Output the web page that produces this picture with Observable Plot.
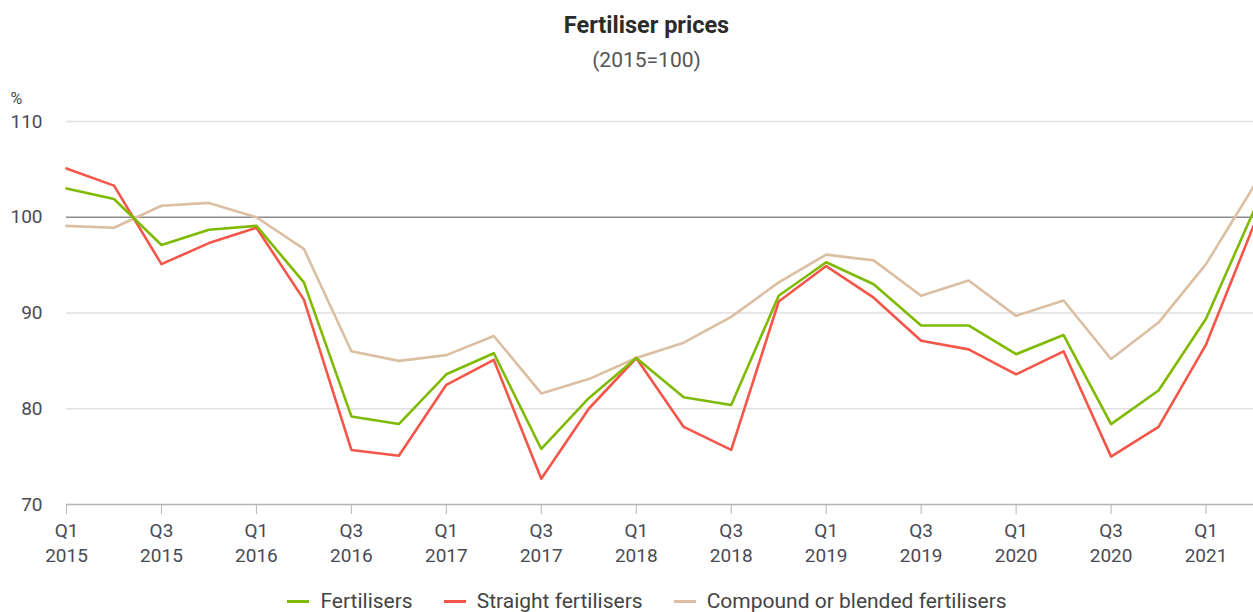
<!DOCTYPE html>
<html>
<head>
<meta charset="utf-8">
<script src="https://cdn.jsdelivr.net/npm/d3@7"></script>
<script src="https://cdn.jsdelivr.net/npm/@observablehq/plot@0.6"></script>
<style>
  body { margin: 0; background: #fff; font-family: Roboto, "Noto Sans", sans-serif; overflow: hidden; }
  #wrap { width: 1253px; height: 612px; position: relative; overflow: hidden; }
  #title { position: absolute; left: 0; width: 1293px; top: 14px; line-height: 1; text-align: center; font-size: 23.5px; font-weight: 700; color: #2b2b2b; }
  #subtitle { position: absolute; left: 0; width: 1293px; top: 50px; line-height: 1; text-align: center; font-size: 21px; color: #555; }
  #chart { position: absolute; left: 0; top: 78px; }
  #legend { position: absolute; left: 0; width: 1294px; top: 591px; line-height: 1; display: flex; justify-content: center; gap: 31px; font-size: 21px; color: #444; }
  .item { display: flex; align-items: center; gap: 11px; }
  .sw { width: 22px; height: 3px; }
</style>
</head>
<body>
<div id="wrap">
  <div id="title">Fertiliser prices</div>
  <div id="subtitle">(2015=100)</div>
  <div id="chart"></div>
  <div id="legend"></div>
</div>
<script>
const quarters = [
  "Q1 2015","Q2 2015","Q3 2015","Q4 2015",
  "Q1 2016","Q2 2016","Q3 2016","Q4 2016",
  "Q1 2017","Q2 2017","Q3 2017","Q4 2017",
  "Q1 2018","Q2 2018","Q3 2018","Q4 2018",
  "Q1 2019","Q2 2019","Q3 2019","Q4 2019",
  "Q1 2020","Q2 2020","Q3 2020","Q4 2020",
  "Q1 2021","Q2 2021"
];
const fertilisers = [
  103.0, 101.9, 97.1, 98.7,
  99.1, 93.2, 79.2, 78.4,
  83.6, 85.8, 75.8, 81.1,
  85.3, 81.2, 80.4, 91.8,
  95.3, 93.0, 88.7, 88.7,
  85.7, 87.7, 78.4, 81.9,
  89.4, 100.6
];
const straight = [
  105.1, 103.3, 95.1, 97.3,
  98.9, 91.4, 75.7, 75.1,
  82.5, 85.1, 72.7, 80.0,
  85.3, 78.1, 75.7, 91.2,
  94.9, 91.6, 87.1, 86.2,
  83.6, 86.0, 75.0, 78.1,
  86.7, 99.1
];
const compound = [
  99.1, 98.9, 101.2, 101.5,
  100.0, 96.7, 86.0, 85.0,
  85.6, 87.6, 81.6, 83.1,
  85.3, 86.9, 89.6, 93.2,
  96.1, 95.5, 91.8, 93.4,
  89.7, 91.3, 85.2, 89.0,
  95.1, 103.2
];
const seriesNames = ["Fertilisers", "Straight fertilisers", "Compound or blended fertilisers"];
const seriesColors = ["#7fba00", "#f5564a", "#dcbfa2"];
const yTicks = [70, 80, 90, 100, 110];
const xTicks = quarters.filter((d, i) => i % 2 === 0);

const seriesValues = [fertilisers, straight, compound];
const data = [];
// draw compound first so it sits behind
[2, 1, 0].forEach(s => {
  quarters.forEach((q, i) => data.push({quarter: q, value: seriesValues[s][i], series: seriesNames[s]}));
});

const chart = Plot.plot({
  width: 1253,
  height: 496,
  marginLeft: 66,
  marginRight: 0,
  marginTop: 43,
  marginBottom: 70,
  style: {fontFamily: "Roboto, 'Noto Sans', sans-serif", fontSize: "19px", color: "#4a4a55", background: "transparent"},
  x: {type: "point", domain: quarters, padding: 0, round: false},
  y: {domain: [70, 110]},
  color: {domain: seriesNames, range: seriesColors},
  marks: [
    Plot.ruleY([80, 90, 110], {stroke: "#e0e0e0", strokeWidth: 1.5}),
    Plot.ruleY([100], {stroke: "#8c8c8c", strokeWidth: 1.5}),
    Plot.ruleY([70], {stroke: "#b5b5b5", strokeWidth: 1.5}),
    Plot.axisY({ticks: yTicks, tickSize: 0, tickPadding: 24, label: null, fontSize: 19}),
    Plot.axisX({
      ticks: xTicks, tickSize: 10, tickPadding: 4, stroke: "#b5b5b5", label: null,
      tickFormat: d => d.replace(" ", "\n"), lineHeight: 1.35, fontSize: 19
    }),
    Plot.line(data, {x: "quarter", y: "value", z: "series", stroke: "series", strokeWidth: 2.6, curve: "linear"}),
    Plot.text(["%"], {frameAnchor: "top-left", dx: -56, dy: -29, textAnchor: "start", fontSize: 16, fill: "#4a4a55"})
  ]
});
document.getElementById("chart").appendChild(chart);

const legend = document.getElementById("legend");
seriesNames.forEach((n, i) => {
  const it = document.createElement("div");
  it.className = "item";
  const sw = document.createElement("div");
  sw.className = "sw";
  sw.style.background = seriesColors[i];
  const t = document.createElement("span");
  t.textContent = n;
  it.appendChild(sw); it.appendChild(t);
  legend.appendChild(it);
});
</script>
</body>
</html>
